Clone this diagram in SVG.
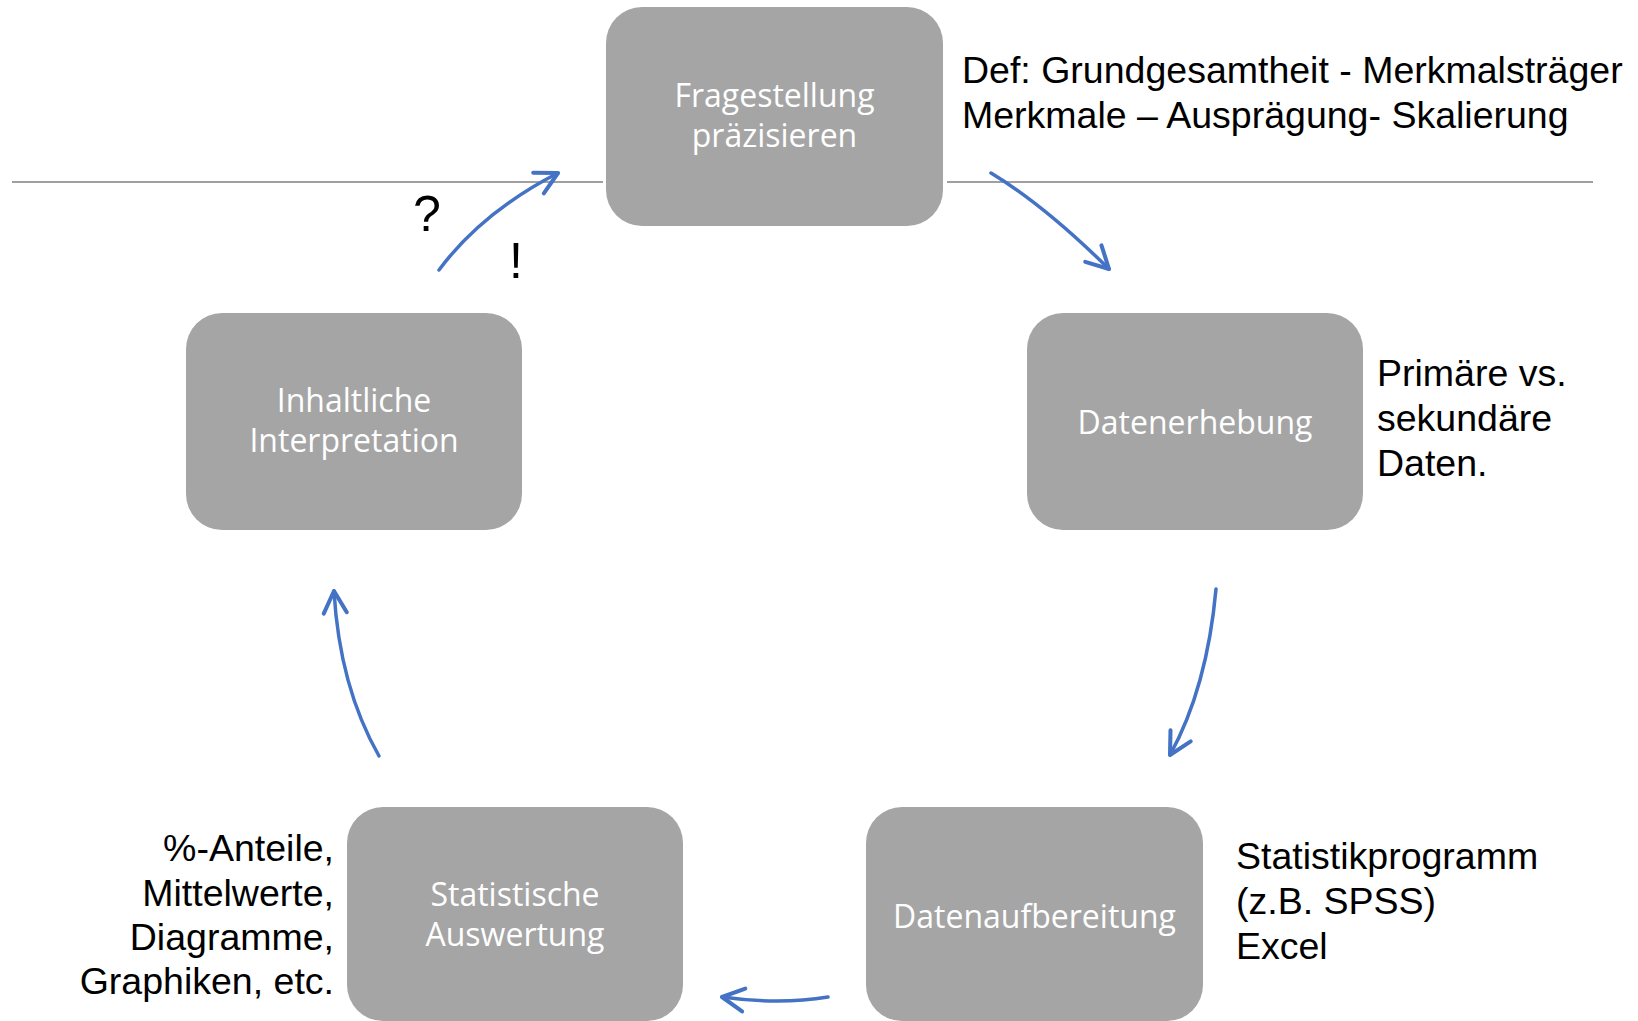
<svg xmlns="http://www.w3.org/2000/svg" width="1638" height="1021" viewBox="0 0 1638 1021">
<style>
.box{fill:#a5a5a5}
.nt{font-family:"Open Sans","Noto Sans",sans-serif;font-size:32px;fill:#ffffff;text-anchor:middle}
.lt{font-family:"Liberation Sans",Arial,sans-serif;font-size:37.5px;fill:#000000}
.big{font-size:50px}
.con{fill:none;stroke:#4472c4;stroke-width:3.5;stroke-linecap:round}
.sep{stroke:#a0a0a0;stroke-width:2}
</style>
<defs>
<marker id="ah" markerUnits="userSpaceOnUse" markerWidth="30" markerHeight="30" viewBox="-22 -13 26 26" refX="0" refY="0" orient="auto">
<path d="M-19,-10 L0,0 L-19,10" fill="none" stroke="#4472c4" stroke-width="3.5" stroke-linecap="round" stroke-linejoin="round"/>
</marker>
</defs>
<g id="separator">
<line class="sep" x1="12" y1="182" x2="603" y2="182"/>
<line class="sep" x1="947" y1="182" x2="1593" y2="182"/>
</g>
<g id="connectors">
<path class="con" d="M439,270 Q481.5,212.5 558,173" marker-end="url(#ah)"/>
<path class="con" d="M991,173 Q1044,205 1109,269" marker-end="url(#ah)"/>
<path class="con" d="M1216,589 Q1207,688 1170,755" marker-end="url(#ah)"/>
<path class="con" d="M828,997 Q779,1005 722,997" marker-end="url(#ah)"/>
<path class="con" d="M379,756 Q339.5,686.5 334,591" marker-end="url(#ah)"/>
</g>
<g id="node-fragestellung">
<rect class="box" x="606" y="7" width="337" height="219" rx="36"/>
<text class="nt" x="774.5" y="107">Fragestellung</text>
<text class="nt" x="774.5" y="147">präzisieren</text>
</g>
<g id="node-datenerhebung">
<rect class="box" x="1027" y="313" width="336" height="217" rx="36"/>
<text class="nt" x="1195" y="434">Datenerhebung</text>
</g>
<g id="node-datenaufbereitung">
<rect class="box" x="866" y="807" width="337" height="214" rx="36"/>
<text class="nt" x="1034.5" y="928">Datenaufbereitung</text>
</g>
<g id="node-statistische">
<rect class="box" x="347" y="807" width="336" height="214" rx="36"/>
<text class="nt" x="515" y="906">Statistische</text>
<text class="nt" x="515" y="946">Auswertung</text>
</g>
<g id="node-inhaltliche">
<rect class="box" x="186" y="313" width="336" height="217" rx="36"/>
<text class="nt" x="354" y="412">Inhaltliche</text>
<text class="nt" x="354" y="452">Interpretation</text>
</g>
<g id="annotations">
<text class="lt" x="962" y="83">Def: Grundgesamtheit - Merkmalsträger</text>
<text class="lt" x="962" y="128">Merkmale – Ausprägung- Skalierung</text>
<text class="lt" x="1377" y="386">Primäre vs.</text>
<text class="lt" x="1377" y="431">sekundäre</text>
<text class="lt" x="1377" y="476">Daten.</text>
<text class="lt" x="1236" y="869">Statistikprogramm</text>
<text class="lt" x="1236" y="914">(z.B. SPSS)</text>
<text class="lt" x="1236" y="959">Excel</text>
<text class="lt" x="334" y="861" text-anchor="end">%-Anteile,</text>
<text class="lt" x="334" y="906" text-anchor="end">Mittelwerte,</text>
<text class="lt" x="334" y="950" text-anchor="end">Diagramme,</text>
<text class="lt" x="334" y="994" text-anchor="end">Graphiken, etc.</text>
<text class="lt big" x="427" y="231" text-anchor="middle">?</text>
<text class="lt big" x="516" y="278" text-anchor="middle">!</text>
</g>
</svg>
